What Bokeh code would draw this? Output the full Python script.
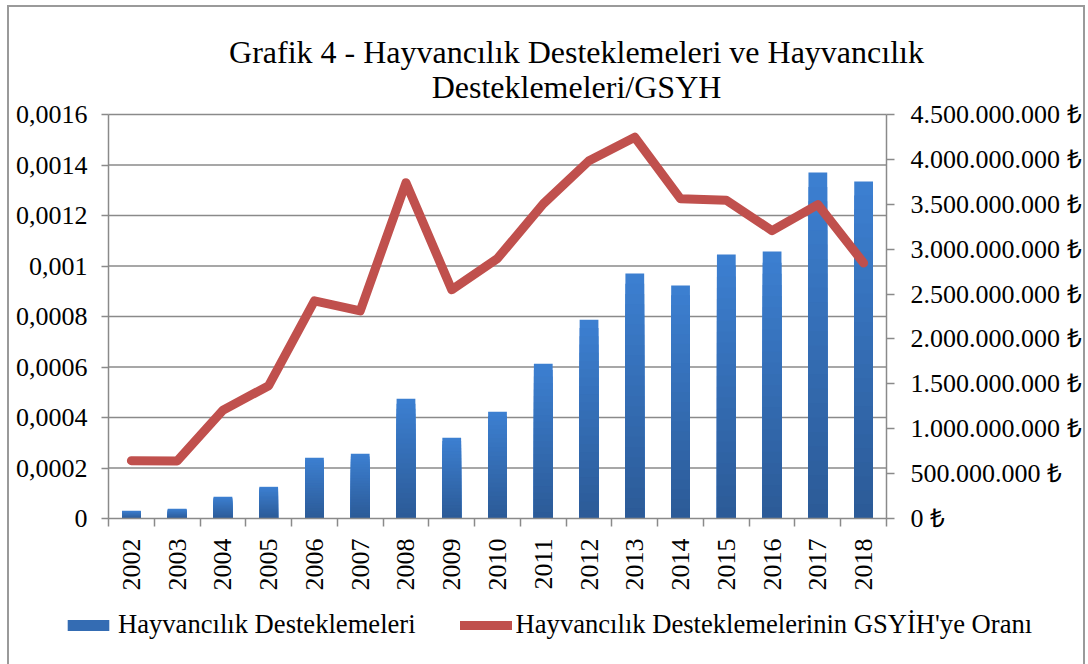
from bokeh.plotting import figure
from bokeh.models import Range1d, LinearAxis, FixedTicker, Label, Legend, LegendItem
from bokeh.embed import file_html
from bokeh.resources import INLINE

# ---- data ----
years = ["2002", "2003", "2004", "2005", "2006", "2007", "2008", "2009", "2010",
         "2011", "2012", "2013", "2014", "2015", "2016", "2017", "2018"]
support_tl = [86e6, 108e6, 242e6, 353e6, 677e6, 721e6, 1334e6, 900e6, 1190e6,
              1725e6, 2215e6, 2728e6, 2594e6, 2940e6, 2973e6, 3854e6, 3754e6]
gdp_ratio = [0.000229, 0.000228, 0.000429, 0.000526, 0.000862, 0.000822, 0.00133,
             0.000906, 0.00103, 0.001246, 0.001417, 0.00151, 0.001266, 0.00126,
             0.00114, 0.001243, 0.001012]

left_ticks = [0, 0.0002, 0.0004, 0.0006, 0.0008, 0.001, 0.0012, 0.0014, 0.0016]
left_labels = ["0", "0,0002", "0,0004", "0,0006", "0,0008", "0,001", "0,0012", "0,0014", "0,0016"]
right_ticks = [0, 5e8, 1e9, 1.5e9, 2e9, 2.5e9, 3e9, 3.5e9, 4e9, 4.5e9]
right_labels = ["0 ₺", "500.000.000 ₺", "1.000.000.000 ₺", "1.500.000.000 ₺",
                "2.000.000.000 ₺", "2.500.000.000 ₺", "3.000.000.000 ₺",
                "3.500.000.000 ₺", "4.000.000.000 ₺", "4.500.000.000 ₺"]

title_lines = ["Grafik 4 - Hayvancılık Desteklemeleri ve Hayvancılık", "Desteklemeleri/GSYH"]
bar_name = "Hayvancılık Desteklemeleri"
line_name = "Hayvancılık Desteklemelerinin GSYİH'ye Oranı"

# ---- styling / layout ----
FONT = "Liberation Serif"
GRID = "#8a8a8a"
LINE_COLOR = "#c0504d"
top_rgb = (0x3c, 0x7f, 0xd0)
bot_rgb = (0x2c, 0x5b, 0x98)

W, H = 1088, 664
PLOT_L, PLOT_R, PLOT_T, PLOT_B = 108, 886, 114, 518   # plot area in page pixels

n = len(years)
y_max_l = left_ticks[-1]
y_max_r = 4.5e9

# whole canvas is the frame; ranges chosen so the plot area sits at PLOT_*
xpp = n / (PLOT_R - PLOT_L)
ypp_l = y_max_l / (PLOT_B - PLOT_T)
ypp_r = y_max_r / (PLOT_B - PLOT_T)
x_range = Range1d(-PLOT_L * xpp, n + (W - PLOT_R) * xpp)
y_range = Range1d(-(H - PLOT_B) * ypp_l, y_max_l + PLOT_T * ypp_l)
r_range = Range1d(-(H - PLOT_B) * ypp_r, y_max_r + PLOT_T * ypp_r)

def px_x(px):
    return x_range.start + px * xpp

def px_y(py):
    return y_range.end - py * ypp_l

xs = [i + 0.5 for i in range(n)]

p = figure(width=W, height=H, output_backend="svg", toolbar_location=None,
           x_range=x_range, y_range=y_range, min_border=0, title_location=None)
p.extra_y_ranges = {"right": r_range}
p.outline_line_color = None
p.background_fill_color = "white"
p.border_fill_color = "white"
p.xgrid.visible = False
p.ygrid.visible = False
p.stylesheets = [":host::after { content: ''; position: absolute; left: 7px; top: 5px; "
                 "right: 3px; bottom: -30px; border: 2px solid #9a9a9a; "
                 "pointer-events: none; }"]

# horizontal gridlines (at the left-axis ticks, across the plot area)
p.segment(x0=[0] * (len(left_ticks) - 1), x1=[n] * (len(left_ticks) - 1),
          y0=left_ticks[1:], y1=left_ticks[1:], line_color=GRID, line_width=1.5)

# x axis at y = 0
xa = p.xaxis[0]
xa.fixed_location = 0
xa.bounds = (0, n)
xa.ticker = FixedTicker(ticks=xs, minor_ticks=list(range(n + 1)))
xa.major_label_overrides = {x: y for x, y in zip(xs, years)}
xa.major_label_orientation = 3.14159265 / 2
xa.major_tick_out = 0
xa.major_tick_in = 0
xa.minor_tick_out = 8
xa.minor_tick_in = 0
xa.minor_tick_line_color = GRID
xa.minor_tick_line_width = 1.5
xa.axis_line_color = GRID
xa.axis_line_width = 1.5
xa.major_label_standoff = 12
xa.major_label_text_font = FONT
xa.major_label_text_font_size = "26px"
xa.major_label_text_color = "black"

# left axis at x = 0
ya = p.yaxis[0]
ya.fixed_location = 0
ya.bounds = (0, y_max_l)
ya.ticker = FixedTicker(ticks=left_ticks)
ya.major_label_overrides = {t: l for t, l in zip(left_ticks, left_labels)}
ya.major_tick_out = 7
ya.major_tick_in = 0
ya.minor_tick_out = 0
ya.minor_tick_in = 0
ya.major_tick_line_color = GRID
ya.major_tick_line_width = 1.5
ya.axis_line_color = GRID
ya.axis_line_width = 1.5
ya.major_label_standoff = 14
ya.major_label_text_font = FONT
ya.major_label_text_font_size = "26px"
ya.major_label_text_color = "black"

# right axis at x = n
ra = LinearAxis(y_range_name="right", fixed_location=n, bounds=(0, y_max_r),
                ticker=FixedTicker(ticks=right_ticks),
                major_label_overrides={t: l for t, l in zip(right_ticks, right_labels)},
                major_tick_out=8, major_tick_in=0, minor_tick_out=0, minor_tick_in=0,
                major_tick_line_color=GRID, major_tick_line_width=1.5,
                axis_line_color=GRID, axis_line_width=1.5,
                major_label_standoff=16, major_label_text_font=FONT,
                major_label_text_font_size="26px", major_label_text_color="black")
p.add_layout(ra, "right")

# bars with vertical gradient (layers drawn from full height downward)
N = 24
def lerp_col(t):
    c = tuple(int(round(top_rgb[i] + (bot_rgb[i] - top_rgb[i]) * t)) for i in range(3))
    return "#%02x%02x%02x" % c

layers = []
for k in range(N):
    frac = 1 - k / N
    layers.append(p.vbar(x=xs, top=[v * frac for v in support_tl], bottom=0, width=0.41,
                         fill_color=lerp_col(k / (N - 1)), line_color=None,
                         y_range_name="right"))

# line
ln = p.line(x=xs, y=gdp_ratio, line_color=LINE_COLOR, line_width=9,
            line_join="round", line_cap="round")

# title (two centred lines)
for txt, base in zip(title_lines, [51, 86]):
    p.add_layout(Label(x=px_x(576), y=px_y(base), text=txt, text_align="center",
                       text_baseline="alphabetic", text_font=FONT,
                       text_font_size="32px", text_color="black"))

# legend
legend = Legend(items=[LegendItem(label=bar_name, renderers=[layers[N // 2]]),
                       LegendItem(label=line_name, renderers=[ln])],
                orientation="horizontal", location=(62, H - 640),
                label_text_font=FONT, label_text_font_size="26.6px",
                label_text_color="black", glyph_width=52, glyph_height=14,
                label_standoff=4, spacing=44, padding=0, margin=0,
                border_line_color=None, background_fill_alpha=0, label_height=27)
p.add_layout(legend)

open("out.html", "w").write(file_html(p, INLINE))
